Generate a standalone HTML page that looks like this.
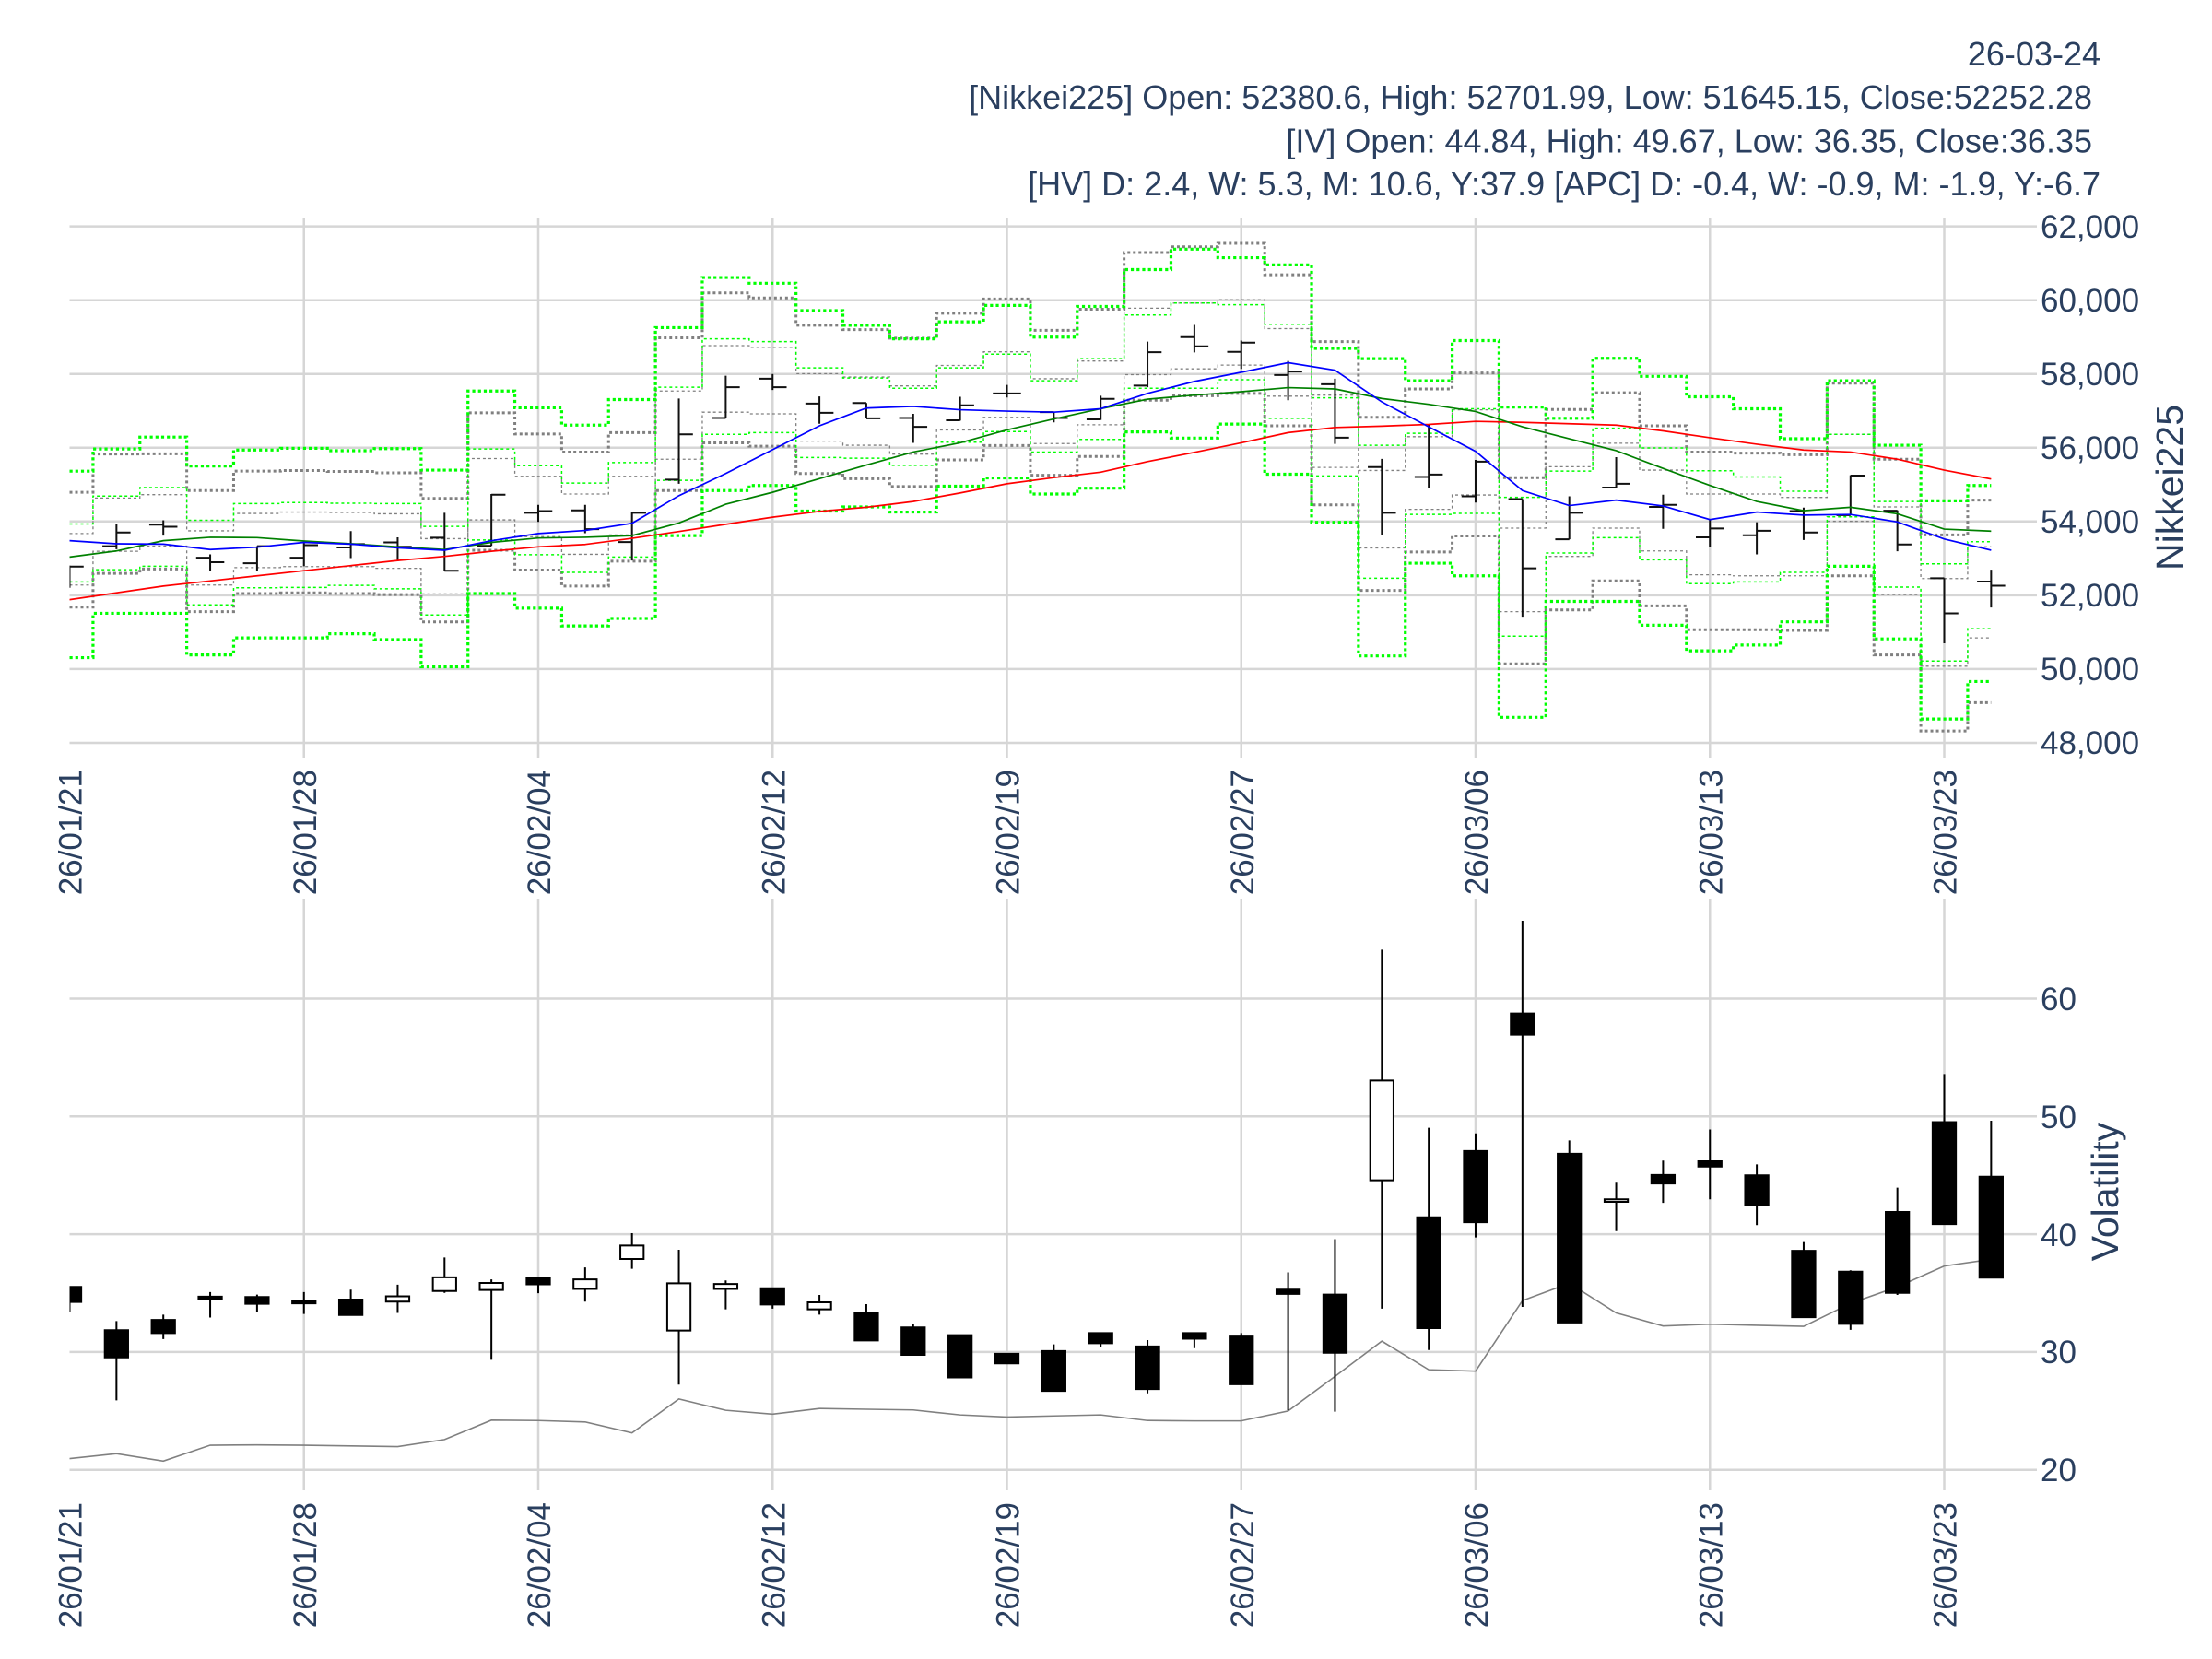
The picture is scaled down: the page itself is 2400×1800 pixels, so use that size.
<!DOCTYPE html>
<html>
<head>
<meta charset="utf-8">
<style>
html,body{margin:0;padding:0;background:#fff;}
svg{display:block;}
text{font-family:"Liberation Sans",Arial,sans-serif;fill:#2a3f5f;}
.ns{vector-effect:non-scaling-stroke;}
</style>
</head>
<body>
<svg width="2400" height="1800" viewBox="0 0 2400 1800" xmlns="http://www.w3.org/2000/svg">
<defs>
<clipPath id="ct"><rect x="75.5" y="236" width="2134.5" height="586"/></clipPath>
<clipPath id="cb"><rect x="75.5" y="975" width="2134.5" height="642"/></clipPath>
</defs>
<rect width="2400" height="1800" fill="#fff"/>

<!-- header -->
<g font-size="36" text-anchor="end">
<text x="2279" y="71">26-03-24</text>
<text x="2270" y="118">[Nikkei225] Open: 52380.6, High: 52701.99, Low: 51645.15, Close:52252.28</text>
<text x="2270" y="165.5">[IV] Open: 44.84, High: 49.67, Low: 36.35, Close:36.35</text>
<text x="2279" y="212">[HV] D: 2.4, W: 5.3, M: 10.6, Y:37.9 [APC] D: -0.4, W: -0.9, M: -1.9, Y:-6.7</text>
</g>

<!-- top grid -->
<g stroke="#d6d6d6" stroke-width="2.5" fill="none">
<path d="M75.5,245.6H2210M75.5,325.7H2210M75.5,405.7H2210M75.5,485.8H2210M75.5,565.8H2210M75.5,645.9H2210M75.5,725.9H2210M75.5,806H2210"/>
<path d="M329.75,236V822M584,236V822M838.25,236V822M1092.5,236V822M1346.75,236V822M1601,236V822M1855.25,236V822M2109.5,236V822"/>
<path d="M75.5,1083.5H2210M75.5,1211.3H2210M75.5,1339.1H2210M75.5,1466.9H2210M75.5,1594.7H2210"/>
<path d="M329.75,975V1617M584,975V1617M838.25,975V1617M1092.5,975V1617M1346.75,975V1617M1601,975V1617M1855.25,975V1617M2109.5,975V1617"/>
</g>

<!-- top panel data -->
<g clip-path="url(#ct)">
<g transform="matrix(50.85,0,0,0.36996,75.5,240)" fill="none">
<!-- gray thick -->
<path class="ns" stroke="#808080" stroke-width="3" stroke-dasharray="3,3" d="M0,795H.5V683H1.5V682H2.5V790H3.5V733H4.5V731H5.5V734H6.5V738H7.5V813H8.5V562H9.5V624H10.5V677H11.5V620H12.5V342H13.5V210H14.5V225H15.5V305H16.5V318H17.5V343H18.5V270H19.5V228H20.5V320H21.5V258H22.5V92H23.5V75H24.5V65H25.5V157H26.5V353H27.5V575H28.5V492H29.5V445H30.5V752H31.5V552H32.5V503H33.5V600H34.5V677H35.5V680H36.5V685H37.5V475H38.5V698H39.5V920H40.5V818H41"/>
<path class="ns" stroke="#808080" stroke-width="3" stroke-dasharray="3,3" d="M0,1132H.5V1033H1.5V1020H2.5V1145H3.5V1092H4.5V1090H5.5V1092H6.5V1095H7.5V1175H8.5V965H9.5V1023H10.5V1070H11.5V997H12.5V790H13.5V650H14.5V660H15.5V740H16.5V755H17.5V778H18.5V700H19.5V658H20.5V745H21.5V690H22.5V525H23.5V512H24.5V505H25.5V600H26.5V832H27.5V1083H28.5V970H29.5V923H30.5V1298H31.5V1140H32.5V1055H33.5V1128H34.5V1198H35.5V1198H36.5V1200H37.5V1040H38.5V1272H39.5V1495H40.5V1412H41"/>
<!-- gray thin -->
<path class="ns" stroke="#808080" stroke-width="1.3" stroke-dasharray="3,3" d="M0,916H.5V812H1.5V802H2.5V908H3.5V857H4.5V853H5.5V854H6.5V858H7.5V931H8.5V696H9.5V748H10.5V800H11.5V748H12.5V498H13.5V365H14.5V370H15.5V447H16.5V457H17.5V483H18.5V423H19.5V383H20.5V462H21.5V410H22.5V255H23.5V240H24.5V230H25.5V315H26.5V510H27.5V731H28.5V632H29.5V553H30.5V900H31.5V720H32.5V651H33.5V730H34.5V800H35.5V800H36.5V810H37.5V625H38.5V838H39.5V1048H40.5V955H41"/>
<path class="ns" stroke="#808080" stroke-width="1.3" stroke-dasharray="3,3" d="M0,1067H.5V968H1.5V953H2.5V1067H3.5V1016H4.5V1013H5.5V1013H6.5V1018H7.5V1093H8.5V876H9.5V925H10.5V977H11.5V920H12.5V698H13.5V560H14.5V565H15.5V645H16.5V657H17.5V683H18.5V612H19.5V575H20.5V652H21.5V597H22.5V450H23.5V433H24.5V422H25.5V513H26.5V722H27.5V958H28.5V845H29.5V803H30.5V1145H31.5V983H32.5V900H33.5V967H34.5V1037H35.5V1040H36.5V1040H37.5V880H38.5V1095H39.5V1305H40.5V1222H41"/>
<!-- green thin -->
<path class="ns" stroke="#00ff00" stroke-width="1.5" stroke-dasharray="3,3" d="M0,888H.5V806H1.5V781H2.5V877H3.5V828H4.5V825H5.5V827H6.5V828H7.5V895H8.5V668H9.5V717H10.5V768H11.5V708H12.5V487H13.5V345H14.5V353H15.5V430H16.5V460H17.5V490H18.5V430H19.5V390H20.5V468H21.5V403H22.5V275H23.5V240H24.5V245H25.5V302H26.5V518H27.5V657H28.5V622H29.5V550H30.5V810H31.5V733H32.5V607H33.5V665H34.5V732H35.5V750H36.5V792H37.5V625H38.5V822H39.5V1005H40.5V940H41"/>
<path class="ns" stroke="#00ff00" stroke-width="1.5" stroke-dasharray="3,3" d="M0,1058H.5V1022H1.5V1012H2.5V1125H3.5V1075H4.5V1074H5.5V1068H6.5V1078H7.5V1155H8.5V935H9.5V978H10.5V1030H11.5V985H12.5V760H13.5V625H14.5V620H15.5V693H16.5V695H17.5V716H18.5V648H19.5V617H20.5V677H21.5V640H22.5V490H23.5V490H24.5V465H25.5V578H26.5V747H27.5V1047H28.5V860H29.5V857H30.5V1217H31.5V973H32.5V928H33.5V993H34.5V1063H35.5V1058H36.5V1030H37.5V867H38.5V1073H39.5V1290H40.5V1195H41"/>
<!-- green thick -->
<path class="ns" stroke="#00ff00" stroke-width="3.2" stroke-dasharray="3.2,3" d="M0,733H.5V668H1.5V633H2.5V718H3.5V671H4.5V666H5.5V673H6.5V667H7.5V730H8.5V498H9.5V547H10.5V598H11.5V523H12.5V312H13.5V165H14.5V182H15.5V262H16.5V305H17.5V345H18.5V295H19.5V247H20.5V340H21.5V250H22.5V142H23.5V82H24.5V107H25.5V128H26.5V373H27.5V403H28.5V468H29.5V350H30.5V545H31.5V578H32.5V402H33.5V455H34.5V515H35.5V550H36.5V638H37.5V468H38.5V657H39.5V820H40.5V775H41"/>
<path class="ns" stroke="#00ff00" stroke-width="3.2" stroke-dasharray="3.2,3" d="M0,1280H.5V1150H1.5V1150H2.5V1272H3.5V1222H4.5V1222H5.5V1210H6.5V1227H7.5V1307H8.5V1092H9.5V1135H10.5V1187H11.5V1165H12.5V922H13.5V790H14.5V775H15.5V850H16.5V838H17.5V853H18.5V777H19.5V753H20.5V800H21.5V783H22.5V618H23.5V636H24.5V595H25.5V742H26.5V883H27.5V1275H28.5V1003H29.5V1040H30.5V1455H31.5V1115H32.5V1115H33.5V1185H34.5V1260H35.5V1243H36.5V1175H37.5V1012H38.5V1225H39.5V1460H40.5V1350H41"/>
<!-- OHLC -->
<path class="ns" stroke="#111" stroke-width="2" d="M0,1010V1075M-.3,1040H0M0,1013H.3M1,889V962M.7,953H1M1,913H1.3M2,877V922M1.7,890H2M2,896H2.3M3,977V1025M2.7,987H3M3,1000H3.3M4,953V1027M3.7,1003H4M4,953H4.3M5,937V1012M4.7,987H5M5,950H5.3M6,909V988M5.7,957H6M6,947H6.3M7,927V997M6.7,942H7M7,955H7.3M8,855V1027M7.7,928H8M8,1025H8.3M9,800V952M8.7,952H9M9,802H9.3M10,832V882M9.7,855H10M10,850H10.3M11,832V915M10.7,848H11M11,903H11.3M12,853V995M11.7,941H12M12,855H12.3M13,520V770M12.7,758H13M13,625H13.3M14,453V577M13.7,577H14M14,487H14.3M15,448V495M14.7,462H15M15,487H15.3M16,514V594M15.7,535H16M16,562H16.3M17,533V578M16.7,533H17M17,578H17.3M18,565V650M17.7,577H18M18,603H18.3M19,515V585M18.7,584H19M19,540H19.3M20,480V517M19.7,505H20M20,505H20.3M21,558V590M20.7,560H21M21,577H21.3M22,512V583M21.7,581H22M22,521H22.3M23,353V487M22.7,482H23M23,384H23.3M24,304V385M23.7,340H24M24,367H24.3M25,350V433M24.7,383H25M25,356H25.3M26,410V525M25.7,451H26M26,441H26.3M27,462V653M26.7,478H27M27,635H27.3M28,697V921M27.7,721H28M28,855H28.3M29,597V781M28.7,750H29M29,743H29.3M30,700V825M29.7,807H30M30,705H30.3M31,815V1160M30.7,815H31M31,1018H31.3M32,807V933M31.7,933H32M32,855H32.3M33,692V783M32.7,781H33M33,770H33.3M34,802V902M33.7,838H34M34,832H34.3M35,873V957M34.7,927H35M35,901H35.3M36,883V977M35.7,921H36M36,908H36.3M37,840V935M36.7,850H37M37,913H37.3M38,745V862M37.7,862H38M38,746H38.3M39,848V968M38.7,849H39M39,948H39.3M40,1047V1238M39.7,1047H40M40,1150H40.3M41,1022V1133M40.7,1057H41M41,1069H41.3"/>
<!-- MAs -->
<polyline class="ns" stroke="#ff0000" stroke-width="1.7" points="0,1110 1,1090 2,1070 3,1055 4,1040 5,1025 6,1010 7,995 8,983 9,968 10,955 11,948 12,930 13,910 14,889 15,868 16,851 17,839 18,822 19,797 20,770 21,752 22,736 23,705 24,678 25,650 26,620 27,605 28,601 29,596 30,587 31,590 32,594 33,598 34,615 35,635 36,654 37,671 38,677 39,698 40,730 41,756"/>
<polyline class="ns" stroke="#008000" stroke-width="1.7" points="0,985 1,967 2,937 3,927 4,928 5,938 6,946 7,955 8,963 9,942 10,929 11,927 12,922 13,885 14,830 15,795 16,755 17,715 18,677 19,650 20,612 21,580 22,550 23,522 24,510 25,500 26,488 27,492 28,520 29,537 30,558 31,603 32,638 33,673 34,725 35,775 36,822 37,849 38,839 39,858 40,903 41,909"/>
<polyline class="ns" stroke="#0000ff" stroke-width="1.7" points="0,937 1,946 2,947 3,963 4,956 5,942 6,947 7,958 8,965 9,937 10,916 11,907 12,886 13,805 14,740 15,670 16,600 17,548 18,543 19,553 20,557 21,560 22,550 23,505 24,470 25,443 26,415 27,437 28,530 29,603 30,675 31,790 32,834 33,818 34,835 35,875 36,853 37,862 38,860 39,882 40,932 41,965"/>
</g>
</g>

<!-- bottom panel data -->
<g clip-path="url(#cb)">
<g transform="matrix(50.85,0,0,0.3827,75.5,1020)">
<polyline class="ns" fill="none" stroke="#808080" stroke-width="1.6" points="0,1470 1,1456 2,1477 3,1432 4,1431 5,1432 6,1434 7,1436 8,1416 9,1361 10,1362 11,1366 12,1397 13,1301 14,1333 15,1344 16,1328 17,1330 18,1332 19,1346 20,1352 21,1349 22,1346 23,1362 24,1363 25,1363 26,1335 27,1237 28,1137 29,1218 30,1222 31,1022 32,973 33,1057 34,1094 35,1089 36,1092 37,1095 38,1030 39,983 40,924 41,905"/>
<path class="ns" fill="none" stroke="#000" stroke-width="2" d="M0,983V1055M1,1080V1305M2,1062V1131M3,998V1070M4,1005V1053M5,998V1060M6,991V1063M7,977V1057M8,900V1000M9,962V1190M10,957V1001M11,928V1025M12,831V932M13,878V1260M14,965V1047M15,985V1045M16,1006V1062M17,1032V1135M18,1087V1176M19,1120V1240M20,1173V1200M21,1146V1278M22,1114V1155M23,1134V1285M24,1114V1157M25,1114V1259M26,942V1333M27,848V1337M28,27V1045M29,532V1162M30,548V843M31,-55V1040M32,568V1084M33,688V825M34,625V745M35,537V735M36,636V808M37,856V1069M38,936V1105M39,702V1006M40,380V805M41,512V957"/>
<g class="ns" stroke="#000" stroke-width="2" fill="#000">
<rect class="ns" x="-.2485" y="983" width=".497" height="43"/>
<rect class="ns" x=".7515" y="1106" width=".497" height="77"/>
<rect class="ns" x="1.7515" y="1077" width=".497" height="37"/>
<rect class="ns" x="2.7515" y="1011" width=".497" height="6"/>
<rect class="ns" x="3.7515" y="1012" width=".497" height="19"/>
<rect class="ns" x="4.7515" y="1022" width=".497" height="8"/>
<rect class="ns" x="5.7515" y="1019" width=".497" height="44"/>
<rect class="ns" x="9.7515" y="957" width=".497" height="19"/>
<rect class="ns" x="14.7515" y="987" width=".497" height="46"/>
<rect class="ns" x="16.7515" y="1056" width=".497" height="79"/>
<rect class="ns" x="17.7515" y="1098" width=".497" height="78"/>
<rect class="ns" x="18.7515" y="1120" width=".497" height="120"/>
<rect class="ns" x="19.7515" y="1173" width=".497" height="27"/>
<rect class="ns" x="20.7515" y="1165" width=".497" height="113"/>
<rect class="ns" x="21.7515" y="1114" width=".497" height="29"/>
<rect class="ns" x="22.7515" y="1152" width=".497" height="121"/>
<rect class="ns" x="23.7515" y="1114" width=".497" height="16"/>
<rect class="ns" x="24.7515" y="1124" width=".497" height="135"/>
<rect class="ns" x="25.7515" y="991" width=".497" height="12"/>
<rect class="ns" x="26.7515" y="1005" width=".497" height="165"/>
<rect class="ns" x="28.7515" y="786" width=".497" height="314"/>
<rect class="ns" x="29.7515" y="598" width=".497" height="202"/>
<rect class="ns" x="30.7515" y="208" width=".497" height="60"/>
<rect class="ns" x="31.7515" y="606" width=".497" height="478"/>
<rect class="ns" x="33.7515" y="666" width=".497" height="24"/>
<rect class="ns" x="34.7515" y="627" width=".497" height="15"/>
<rect class="ns" x="35.7515" y="667" width=".497" height="85"/>
<rect class="ns" x="36.7515" y="881" width=".497" height="188"/>
<rect class="ns" x="37.7515" y="940" width=".497" height="148"/>
<rect class="ns" x="38.7515" y="771" width=".497" height="229"/>
<rect class="ns" x="39.7515" y="516" width=".497" height="289"/>
<rect class="ns" x="40.7515" y="671" width=".497" height="286"/>
</g>
<g stroke="#000" stroke-width="2" fill="#fff">
<rect class="ns" x="6.7515" y="1010" width=".497" height="15"/>
<rect class="ns" x="7.7515" y="956" width=".497" height="39"/>
<rect class="ns" x="8.7515" y="972" width=".497" height="20"/>
<rect class="ns" x="10.7515" y="962" width=".497" height="27"/>
<rect class="ns" x="11.7515" y="866" width=".497" height="38"/>
<rect class="ns" x="12.7515" y="973" width=".497" height="134"/>
<rect class="ns" x="13.7515" y="975" width=".497" height="14"/>
<rect class="ns" x="15.7515" y="1027" width=".497" height="20"/>
<rect class="ns" x="27.7515" y="398" width=".497" height="283"/>
<rect class="ns" x="32.7515" y="735" width=".497" height="7"/>
</g>
</g>
</g>

<!-- right tick labels -->
<g font-size="35" text-anchor="start">
<text x="2214" y="258">62,000</text>
<text x="2214" y="338">60,000</text>
<text x="2214" y="418">58,000</text>
<text x="2214" y="498">56,000</text>
<text x="2214" y="578">54,000</text>
<text x="2214" y="658">52,000</text>
<text x="2214" y="738">50,000</text>
<text x="2214" y="818">48,000</text>
<text x="2214" y="1096">60</text>
<text x="2214" y="1224">50</text>
<text x="2214" y="1352">40</text>
<text x="2214" y="1479">30</text>
<text x="2214" y="1607">20</text>
</g>

<!-- axis titles -->
<g font-size="41" text-anchor="middle">
<text transform="translate(2368,529) rotate(-90)">Nikkei225</text>
<text transform="translate(2298,1293) rotate(-90)">Volatility</text>
</g>

<!-- x labels -->
<g font-size="35" text-anchor="end">
<text transform="translate(88.5,835) rotate(-90)">26/01/21</text>
<text transform="translate(342.75,835) rotate(-90)">26/01/28</text>
<text transform="translate(597,835) rotate(-90)">26/02/04</text>
<text transform="translate(851.25,835) rotate(-90)">26/02/12</text>
<text transform="translate(1105.5,835) rotate(-90)">26/02/19</text>
<text transform="translate(1359.75,835) rotate(-90)">26/02/27</text>
<text transform="translate(1614,835) rotate(-90)">26/03/06</text>
<text transform="translate(1868.25,835) rotate(-90)">26/03/13</text>
<text transform="translate(2122.5,835) rotate(-90)">26/03/23</text>
<text transform="translate(88.5,1630) rotate(-90)">26/01/21</text>
<text transform="translate(342.75,1630) rotate(-90)">26/01/28</text>
<text transform="translate(597,1630) rotate(-90)">26/02/04</text>
<text transform="translate(851.25,1630) rotate(-90)">26/02/12</text>
<text transform="translate(1105.5,1630) rotate(-90)">26/02/19</text>
<text transform="translate(1359.75,1630) rotate(-90)">26/02/27</text>
<text transform="translate(1614,1630) rotate(-90)">26/03/06</text>
<text transform="translate(1868.25,1630) rotate(-90)">26/03/13</text>
<text transform="translate(2122.5,1630) rotate(-90)">26/03/23</text>
</g>
</svg>
</body>
</html>
